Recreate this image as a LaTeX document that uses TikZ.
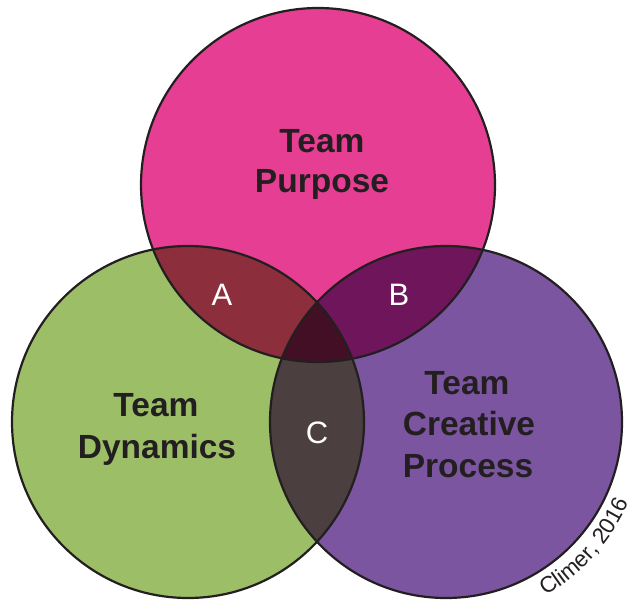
\documentclass[tikz,border=0pt]{standalone}
\usepackage{fontspec}
\setmainfont{Liberation Sans}
\usetikzlibrary{decorations.text}
\definecolor{cpink}{RGB}{230,62,147}
\definecolor{cgreen}{RGB}{155,190,102}
\definecolor{cpurple}{RGB}{123,85,159}
\definecolor{cA}{RGB}{140,46,59}
\definecolor{cB}{RGB}{111,21,92}
\definecolor{cC}{RGB}{75,63,64}
\definecolor{cABC}{RGB}{67,15,37}
\definecolor{ink}{RGB}{35,31,32}
\tikzset{
  outline/.style={draw=ink, line width=2.2pt},
  title/.style={font=\fontsize{33.5}{40}\selectfont\bfseries, text=ink, anchor=base, inner sep=0pt},
  region/.style={font=\fontsize{31}{36}\selectfont, text=white, anchor=base, inner sep=0pt}
}
\begin{document}
\begin{tikzpicture}[x=1pt,y=1pt]
\useasboundingbox (0,0) rectangle (634,600);
\coordinate (P) at (318,415);
\coordinate (G) at (188,178);
\coordinate (V) at (446,178);
% base fills
\fill[cpink] (P) circle[radius=177pt];
\fill[cgreen] (G) circle[radius=176pt];
\fill[cpurple] (V) circle[radius=176pt];
% pairwise overlaps
\begin{scope}
  \clip (P) circle[radius=177pt];
  \fill[cA] (G) circle[radius=176pt];
  \fill[cB] (V) circle[radius=176pt];
\end{scope}
\begin{scope}
  \clip (G) circle[radius=176pt];
  \fill[cC] (V) circle[radius=176pt];
\end{scope}
\begin{scope}
  \clip (P) circle[radius=177pt];
  \clip (G) circle[radius=176pt];
  \fill[cABC] (V) circle[radius=176pt];
\end{scope}
% outlines
\draw[outline] (P) circle[radius=177pt];
\draw[outline] (G) circle[radius=176pt];
\draw[outline] (V) circle[radius=176pt];
% titles
\node[title] (p1) at (322,447) {Team};
\node[title] (p2) at (322,407) {Purpose};
\node[title] (d1) at (156,183) {Team};
\node[title] (d2) at (157,142) {Dynamics};
\node[title] (c1) at (467,205) {Team};
\node[title] (c2) at (469,165) {Creative};
\node[title] (c3) at (468,123) {Process};
% region labels
\node[region] (la) at (222,294) {A};
\node[region] (lb) at (399,294) {B};
\node[region] (lc) at (317,157) {C};
% credit
\path[decorate, decoration={text along path, text align=center,
  text={|\fontsize{22.5}{26}\selectfont\color{ink}|Climer, 2016}}]
  ([shift={(-68:200pt)}]V) arc[start angle=-68, end angle=-16, radius=200pt];
\end{tikzpicture}
\end{document}
